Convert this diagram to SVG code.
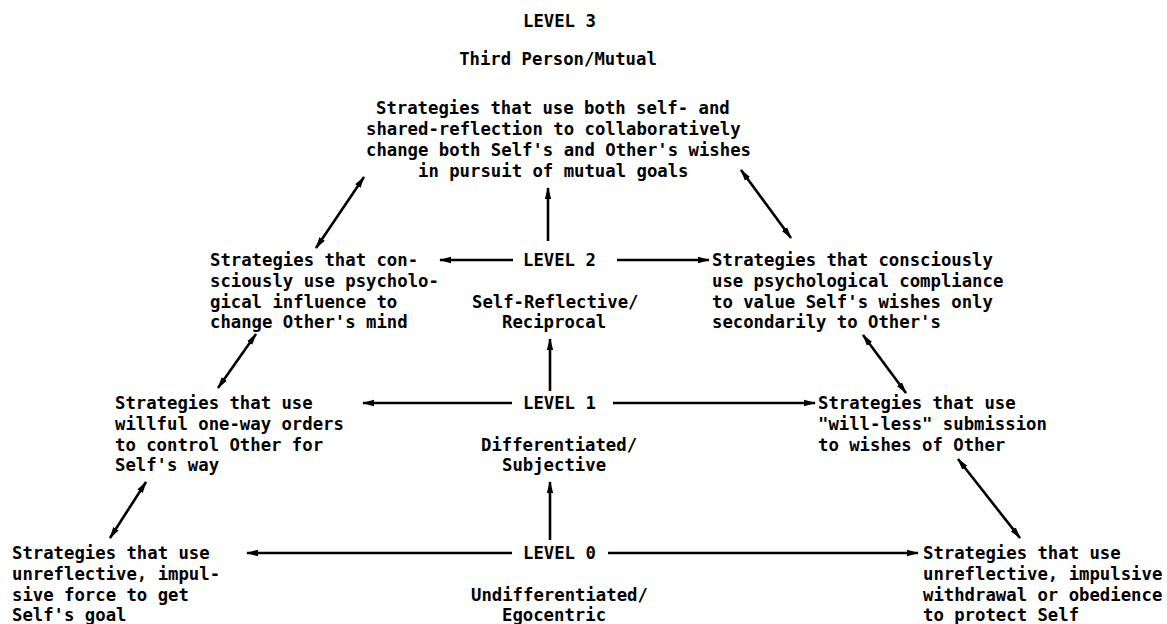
<svg xmlns="http://www.w3.org/2000/svg" width="1167" height="624" viewBox="0 0 1167 624">
<style>
  text { font-family: "DejaVu Sans Mono", "Liberation Mono", monospace; font-weight: bold; font-size: 17.3px; fill: #000; }
  .c { text-anchor: middle; }
  .edge { stroke: #000; stroke-width: 2.6; fill: none; }
  .one { marker-end: url(#ah); }
  .two { marker-start: url(#ah); marker-end: url(#ah); }
</style>
<defs>
  <marker id="ah" viewBox="0 0 12 8" refX="11" refY="4" markerWidth="12" markerHeight="8" markerUnits="userSpaceOnUse" orient="auto-start-reverse">
    <path d="M0,0.8 L12,4 L0,7.2 z" fill="#000"/>
  </marker>
</defs>
<rect width="1167" height="624" fill="#fff"/>

<g id="connectors">
  <!-- vertical (upward) -->
  <line class="edge one" x1="548" y1="241" x2="548" y2="188"/>
  <line class="edge one" x1="550" y1="391" x2="550" y2="339"/>
  <line class="edge one" x1="550" y1="540" x2="550" y2="482"/>
  <!-- horizontal outward -->
  <line class="edge one" x1="513" y1="260" x2="440" y2="260"/>
  <line class="edge one" x1="617" y1="260" x2="709" y2="260"/>
  <line class="edge one" x1="512" y1="403" x2="363" y2="403"/>
  <line class="edge one" x1="613" y1="403" x2="815" y2="403"/>
  <line class="edge one" x1="512" y1="553" x2="247" y2="553"/>
  <line class="edge one" x1="608" y1="553" x2="918" y2="553"/>
  <!-- diagonals -->
  <line class="edge two" x1="316" y1="248" x2="364" y2="177"/>
  <line class="edge two" x1="741" y1="170" x2="791" y2="238"/>
  <line class="edge two" x1="218" y1="388" x2="256" y2="334"/>
  <line class="edge two" x1="863" y1="335" x2="906" y2="393"/>
  <line class="edge two" x1="110" y1="538" x2="146" y2="482"/>
  <line class="edge two" x1="958" y1="459" x2="1020" y2="538"/>
</g>

<g id="level3">
  <text x="523" y="27">LEVEL 3</text>
  <text class="c" x="558" y="65">Third Person/Mutual</text>
</g>
<g id="strategy3">
  <text x="376" y="114">Strategies that use both self- and</text>
  <text x="366" y="135">shared-reflection to collaboratively</text>
  <text x="366" y="156">change both Self's and Other's wishes</text>
  <text x="418" y="177">in pursuit of mutual goals</text>
</g>

<g id="level2">
  <text x="523" y="266">LEVEL 2</text>
  <text x="472" y="308">Self-Reflective/</text>
  <text x="502" y="328">Reciprocal</text>
</g>
<g id="strategy2-left">
  <text x="210" y="266">Strategies that con-</text>
  <text x="210" y="287">sciously use psycholo-</text>
  <text x="210" y="308">gical influence to</text>
  <text x="210" y="328">change Other's mind</text>
</g>
<g id="strategy2-right">
  <text x="712" y="266">Strategies that consciously</text>
  <text x="712" y="287">use psychological compliance</text>
  <text x="712" y="308">to value Self's wishes only</text>
  <text x="712" y="328">secondarily to Other's</text>
</g>

<g id="level1">
  <text x="523" y="409">LEVEL 1</text>
  <text x="481" y="451">Differentiated/</text>
  <text x="502" y="471">Subjective</text>
</g>
<g id="strategy1-left">
  <text x="115" y="409">Strategies that use</text>
  <text x="115" y="430">willful one-way orders</text>
  <text x="115" y="451">to control Other for</text>
  <text x="115" y="471">Self's way</text>
</g>
<g id="strategy1-right">
  <text x="818" y="409">Strategies that use</text>
  <text x="818" y="430">"will-less" submission</text>
  <text x="818" y="451">to wishes of Other</text>
</g>

<g id="level0">
  <text x="523" y="559">LEVEL 0</text>
  <text x="471" y="601">Undifferentiated/</text>
  <text x="502" y="621">Egocentric</text>
</g>
<g id="strategy0-left">
  <text x="12" y="559">Strategies that use</text>
  <text x="12" y="580">unreflective, impul-</text>
  <text x="12" y="601">sive force to get</text>
  <text x="12" y="621">Self's goal</text>
</g>
<g id="strategy0-right">
  <text x="923" y="559">Strategies that use</text>
  <text x="923" y="580">unreflective, impulsive</text>
  <text x="923" y="601">withdrawal or obedience</text>
  <text x="923" y="621">to protect Self</text>
</g>
</svg>
